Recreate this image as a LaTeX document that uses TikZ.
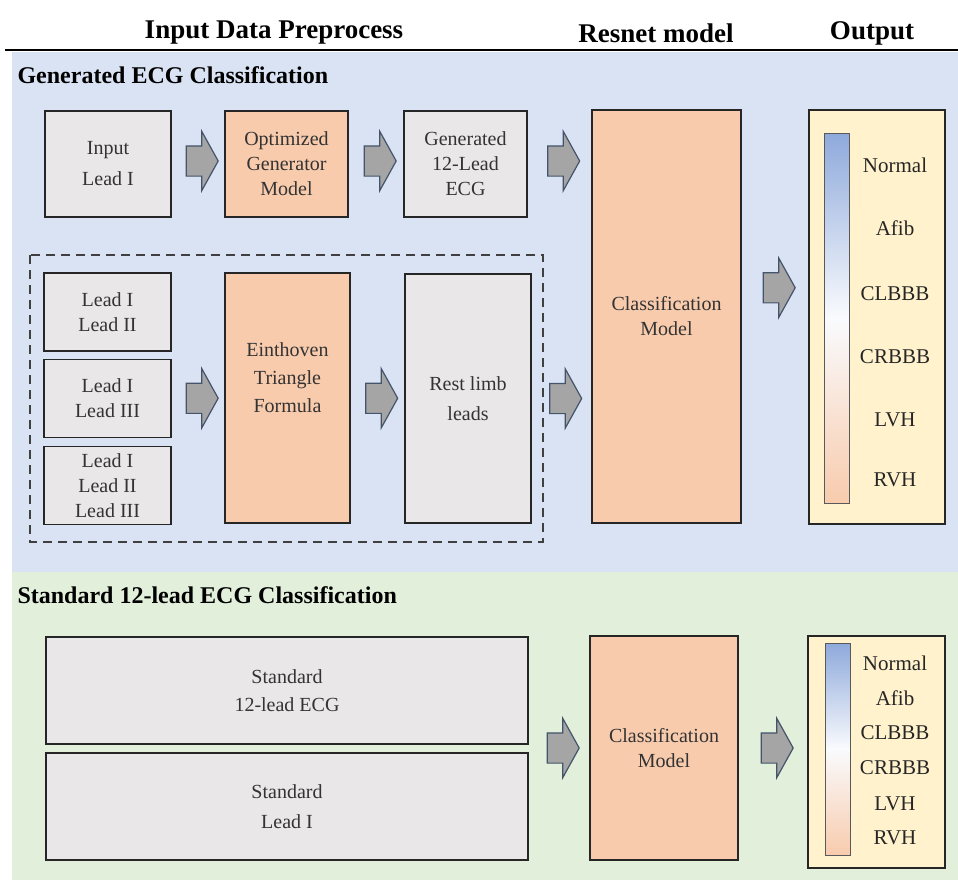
\documentclass[tikz,border=0pt]{standalone}
\usepackage{fontspec}
\setmainfont{Liberation Serif}
\usetikzlibrary{shapes.arrows,calc}

\definecolor{bgblue}{HTML}{DAE3F3}
\definecolor{bggreen}{HTML}{E2EFDA}
\definecolor{boxgray}{HTML}{E9E7E7}
\definecolor{boxorange}{HTML}{F8CBAD}
\definecolor{outcream}{HTML}{FFF2CC}
\definecolor{arrowgray}{HTML}{A5A5A5}
\definecolor{arrowline}{HTML}{44546A}
\definecolor{textgray}{HTML}{333333}
\definecolor{barblue}{HTML}{8EA9DB}
\definecolor{barorange}{HTML}{F8CBAD}

\tikzset{
  box/.style={draw=black!85, line width=1.8pt, fill=boxgray, align=center,
    inner sep=0pt, text=textgray, font=\fontsize{20}{25}\selectfont},
  orangebox/.style={box, fill=boxorange},
  outbox/.style={draw=black!85, line width=1.8pt, fill=outcream, inner sep=0pt},
  scalebar/.style={draw=black!65, line width=1pt, inner sep=0pt,
    top color=barblue, bottom color=barorange, middle color=white!95!barblue},
  blockarr/.style={single arrow, draw=arrowline, fill=arrowgray, line width=1.2pt,
    inner xsep=0pt, inner ysep=14.5pt, minimum height=32pt,
    single arrow head extend=14.5pt, single arrow tip angle=122},
  classlabel/.style={text=black!85, font=\fontsize{21}{24}\selectfont},
  headtext/.style={font=\bfseries\fontsize{27}{30}\selectfont},
  sectext/.style={anchor=west, font=\bfseries\fontsize{24}{27}\selectfont}
}

\begin{document}
\begin{tikzpicture}[x=1pt,y=-1pt]
  \useasboundingbox (0,0) rectangle (958,883);
  \fill[white] (0,0) rectangle (958,883);

  % backgrounds and header
  \fill[bgblue] (12,52) rectangle (958,572);
  \fill[bggreen] (12,572) rectangle (958,880);
  \draw[line width=2.5pt] (5,50) -- (958,50);
  \node[headtext] (hin) at (274,33) {Input Data Preprocess};
  \node[headtext] (hres) at (656,33) {Resnet model};
  \node[headtext] (hout) at (872,33) {Output};
  \node[sectext] (secgen) at (14,75) {Generated ECG Classification};
  \node[sectext] (secstd) at (14,595) {Standard 12-lead ECG Classification};

  % generated ECG branch
  \node[box, minimum width=126pt, minimum height=106pt] (inlead) at (108,164) {Input\\[6pt]Lead I};
  \node[orangebox, minimum width=123pt, minimum height=106pt] (gen) at (286.5,164) {Optimized\\Generator\\Model};
  \node[box, minimum width=123pt, minimum height=106pt] (gen12) at (465.5,164) {Generated\\12-Lead\\ECG};

  \draw[line width=1.3pt, dashed, dash pattern=on 9pt off 6pt, black!75] (30,255) rectangle (543,542);
  \node[box, minimum width=127pt, minimum height=78pt] (l12) at (107.5,312) {Lead I\\Lead II};
  \node[box, minimum width=127pt, minimum height=78pt] (l13) at (107.5,398.5) {Lead I\\Lead III};
  \node[box, minimum width=127pt, minimum height=78pt] (l123) at (107.5,485.5) {Lead I\\Lead II\\Lead III};
  \node[orangebox, minimum width=125pt, minimum height=250pt,
    label={[box, draw=none, fill=none, yshift=20pt]center:{Einthoven\\[3pt]Triangle\\[3pt]Formula}}] (ein) at (287.5,398) {};
  \node[box, minimum width=126pt, minimum height=249pt] (rest) at (468,398.5) {Rest limb\\[5pt]leads};

  \node[orangebox, minimum width=149pt, minimum height=413pt] (cls) at (666.5,316.5) {Classification\\Model};

  \node[outbox, minimum width=136pt, minimum height=414pt] (out) at (877,317) {};
  \node[scalebar, minimum width=25pt, minimum height=370pt] (bar) at (837,318) {};
  \node[classlabel] (o1) at (895,165) {Normal};
  \node[classlabel] (o2) at (895,228) {Afib};
  \node[classlabel] (o3) at (895,294) {CLBBB};
  \node[classlabel] (o4) at (895,357) {CRBBB};
  \node[classlabel] (o5) at (895,420) {LVH};
  \node[classlabel] (o6) at (895,480) {RVH};

  \node[blockarr] (a1) at ($(inlead.east)!.5!(gen.west)+(0,-3)$) {};
  \node[blockarr] (a2) at ($(gen.east)!.5!(gen12.west)+(0,-3)$) {};
  \node[blockarr] (a3) at ($(gen12.east)!.5!(gen12.east-|cls.west)+(0,-3)$) {};
  \node[blockarr] (a4) at ($(l13.east)!.5!(ein.west)$) {};
  \node[blockarr] (a5) at ($(ein.east)!.5!(rest.west)$) {};
  \node[blockarr] (a6) at ($(rest.east)!.5!(rest.east-|cls.west)$) {};
  \node[blockarr] (a7) at ($(cls.east)!.5!(out.west)+(0,-29)$) {};

  % standard 12-lead branch
  \node[box, minimum width=482pt, minimum height=107pt] (std12) at (287,690.5) {Standard\\[3pt]12-lead ECG};
  \node[box, minimum width=482pt, minimum height=107pt] (stdl1) at (287,806.5) {Standard\\[5pt]Lead I};
  \node[orangebox, minimum width=148pt, minimum height=224pt] (cls2) at (664,748) {Classification\\Model};

  \node[outbox, minimum width=137pt, minimum height=232pt] (out2) at (876.5,752) {};
  \node[scalebar, minimum width=25pt, minimum height=212pt] (bar2) at (837.5,749) {};
  \node[classlabel] (p1) at (895,663) {Normal};
  \node[classlabel] (p2) at (895,698) {Afib};
  \node[classlabel] (p3) at (895,733) {CLBBB};
  \node[classlabel] (p4) at (895,768) {CRBBB};
  \node[classlabel] (p5) at (895,804) {LVH};
  \node[classlabel] (p6) at (895,838) {RVH};

  \node[blockarr] (b1) at ($(std12.east|-cls2.west)!.5!(cls2.west)$) {};
  \node[blockarr] (b2) at ($(cls2.east)!.5!(out2.west|-cls2.east)$) {};
\end{tikzpicture}
\end{document}
